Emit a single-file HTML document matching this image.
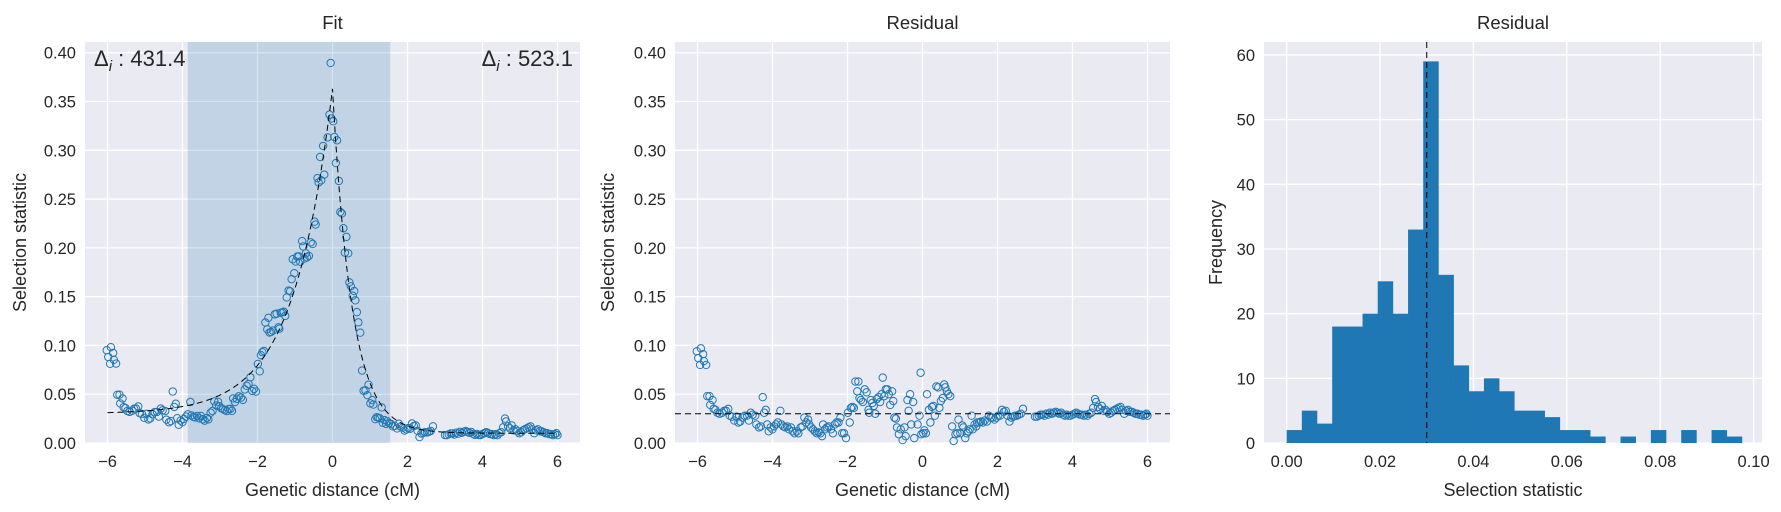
<!DOCTYPE html>
<html><head><meta charset="utf-8">
<style>
html,body{margin:0;padding:0;background:#fff;}
svg{display:block;font-family:"Liberation Sans","DejaVu Sans",sans-serif;}
</style></head>
<body>
<svg id="fig" width="1781" height="512" viewBox="0 0 1781 512" xmlns="http://www.w3.org/2000/svg"></svg>
<script>
// ---- data ----
const resX = [-6.02,-5.98,-5.93,-5.91,-5.85,-5.83,-5.77,-5.74,-5.68,-5.66,-5.60,-5.57,-5.52,-5.47,-5.41,-5.34,-5.29,-5.24,-5.18,-5.14,-5.08,-5.02,-4.96,-4.91,-4.86,-4.80,-4.74,-4.68,-4.63,-4.58,-4.53,-4.46,-4.43,-4.36,-4.31,-4.26,-4.22,-4.18,-4.14,-4.10,-4.05,-4.00,-3.96,-3.91,-3.86,-3.79,-3.76,-3.71,-3.66,-3.61,-3.56,-3.51,-3.46,-3.41,-3.35,-3.31,-3.25,-3.20,-3.15,-3.10,-3.05,-3.02,-2.97,-2.92,-2.87,-2.82,-2.77,-2.72,-2.68,-2.65,-2.60,-2.55,-2.50,-2.44,-2.39,-2.34,-2.29,-2.24,-2.19,-2.14,-2.09,-2.04,-1.99,-1.94,-1.91,-1.87,-1.83,-1.79,-1.71,-1.74,-1.68,-1.64,-1.59,-1.54,-1.49,-1.44,-1.42,-1.38,-1.34,-1.30,-1.26,-1.22,-1.17,-1.13,-1.09,-1.06,-1.02,-0.98,-0.94,-0.90,-0.86,-0.81,-0.78,-0.75,-0.71,-0.68,-0.63,-0.58,-0.53,-0.48,-0.45,-0.40,-0.37,-0.33,-0.30,-0.25,-0.22,-0.05,-0.13,-0.08,-0.03,0.02,0.05,0.09,0.12,0.17,0.21,0.25,0.29,0.33,0.37,0.42,0.45,0.49,0.54,0.58,0.61,0.65,0.69,0.74,0.79,0.83,0.88,0.93,0.96,1.01,1.06,1.09,1.14,1.18,1.22,1.26,1.31,1.34,1.39,1.43,1.46,1.51,1.56,1.61,1.66,1.72,1.77,1.82,1.87,1.92,1.97,2.02,2.07,2.12,2.17,2.22,2.27,2.32,2.37,2.42,2.47,2.52,2.57,2.62,2.68,3.00,3.05,3.10,3.15,3.20,3.25,3.30,3.35,3.40,3.45,3.50,3.55,3.60,3.65,3.70,3.75,3.80,3.85,3.90,3.95,4.00,4.05,4.10,4.15,4.20,4.25,4.30,4.35,4.40,4.45,4.50,4.55,4.60,4.63,4.68,4.73,4.78,4.83,4.88,4.93,4.98,5.03,5.08,5.13,5.18,5.23,5.28,5.33,5.38,5.43,5.48,5.53,5.58,5.63,5.68,5.73,5.78,5.83,5.88,5.93,5.97,6.00];
const resY = [.094,.087,.080,.097,.091,.084,.080,.048,.048,.039,.044,.035,.034,.031,.030,.031,.033,.033,.035,.028,.027,.023,.027,.021,.022,.026,.028,.028,.023,.031,.029,.028,.019,.016,.017,.047,.031,.034,.019,.012,.016,.014,.017,.019,.021,.033,.019,.017,.016,.017,.014,.016,.012,.010,.012,.010,.016,.017,.026,.021,.024,.019,.016,.014,.012,.010,.011,.010,.007,.019,.014,.016,.017,.014,.010,.019,.021,.021,.026,.010,.010,.005,.031,.021,.036,.037,.036,.063,.063,.053,.046,.044,.042,.055,.052,.034,.031,.044,.041,.038,.030,.045,.047,.042,.050,.067,.048,.055,.055,.050,.039,.053,.043,.026,.025,.016,.009,.014,.003,.016,.007,.044,.033,.050,.019,.042,.005,.072,.019,.028,.009,.010,.013,.010,.050,.034,.021,.037,.038,.028,.058,.057,.036,.043,.046,.060,.057,.053,.050,.048,.017,.002,.009,.010,.024,.010,.018,.016,.005,.010,.012,.014,.028,.014,.019,.017,.021,.021,.022,.021,.023,.022,.028,.026,.026,.024,.026,.028,.028,.034,.032,.033,.028,.022,.026,.027,.028,.028,.029,.030,.035,.027,.027,.028,.029,.029,.028,.030,.029,.031,.030,.031,.032,.031,.030,.031,.029,.028,.029,.028,.028,.029,.030,.031,.030,.029,.029,.028,.029,.028,.030,.031,.036,.045,.042,.037,.035,.038,.033,.034,.032,.030,.031,.033,.034,.035,.036,.037,.034,.030,.033,.034,.032,.032,.031,.030,.030,.029,.029,.028,.029,.030,.028];
const fitLeft = [0.030, 0.333, 1.05];   // baseline, amplitude, scale (cM)
const fitRight = [0.010, 0.353, 0.52];
const residualLevel = [0.03];
const shadeRange = [-3.86, 1.54];
const deltaLabels = ["431.4", "523.1"];
const histCounts = [2,5,3,18,18,20,25,20,33,59,26,12,8,10,8,5,5,4,2,2,1,0,1,0,2,0,2,0,2,1];
const histRange = [0.0, 0.0975];
const yTicks12 = [0,0.05,0.10,0.15,0.20,0.25,0.30,0.35,0.40];
const xTicks12 = [-6,-4,-2,0,2,4,6];
const yTicks3 = [0,10,20,30,40,50,60];
const xTicks3 = [0,0.02,0.04,0.06,0.08,0.10];

const NS = "http://www.w3.org/2000/svg";
const svg = document.getElementById('fig');
function mk(tag, attrs, parent){ const e=document.createElementNS(NS,tag); for(const k in attrs) e.setAttribute(k,attrs[k]); (parent||svg).appendChild(e); return e; }
function txt(s, attrs, parent){ const e=mk('text',attrs,parent); e.textContent=s; return e; }
function fitF(x){ return x<0 ? fitLeft[0]+fitLeft[1]*Math.exp(x/fitLeft[2]) : fitRight[0]+fitRight[1]*Math.exp(-x/fitRight[2]); }

const TOP=42, BOT=443;
function panel(name, L, R, xmin, xmax, ymin, ymax, xt, yt, xfmt, yfmt, title, xlabel, ylabel, ylabX){
  const g = mk('g',{});
  
  
  const sx = v => L + (v-xmin)/(xmax-xmin)*(R-L);
  const sy = v => BOT - (v-ymin)/(ymax-ymin)*(BOT-TOP);
  const bg = mk('rect',{x:L,y:TOP,width:R-L,height:BOT-TOP,fill:'#eaeaf2'},g);
   
  xt.forEach(v=>{ const l=mk('line',{x1:sx(v),x2:sx(v),y1:TOP,y2:BOT,stroke:'#fff','stroke-width':1.3},g);
     
    const t=txt(xfmt(v),{x:sx(v),y:BOT+24,'text-anchor':'middle','font-size':16.5,fill:'#262626'},g);
      });
  yt.forEach(v=>{ const l=mk('line',{x1:L,x2:R,y1:sy(v),y2:sy(v),stroke:'#fff','stroke-width':1.3},g);
     
    const t=txt(yfmt(v),{x:L-9,y:sy(v)+6,'text-anchor':'end','font-size':16.5,fill:'#262626'},g);
      });
  const ti=txt(title,{x:(L+R)/2,y:29,'text-anchor':'middle','font-size':18.5,fill:'#262626'},g);
   
  const xl=txt(xlabel,{x:(L+R)/2,y:496,'text-anchor':'middle','font-size':18,fill:'#262626'},g);
   
  const yl=txt(ylabel,{x:0,y:0,'text-anchor':'middle','font-size':18,fill:'#262626',transform:`translate(${ylabX},${(TOP+BOT)/2}) rotate(-90)`},g);
   
  return {g,sx,sy};
}
const f2 = v=>v.toFixed(2);
const fi = v=>(v<0?'\u2212':'')+Math.abs(v);

// Panel 1: Fit
const p1 = panel('fit-panel',85,580,-6.6,6.6,0,0.411,xTicks12,yTicks12,fi,f2,'Fit','Genetic distance (cM)','Selection statistic',26);
const sh=mk('rect',{x:p1.sx(shadeRange[0]),y:TOP,width:p1.sx(shadeRange[1])-p1.sx(shadeRange[0]),height:BOT-TOP,fill:'rgba(31,119,180,0.2)'},p1.g);
 
resX.forEach((x,i)=>{ const y=resY[i]-residualLevel[0]+fitF(x);
  const c=mk('circle',{cx:p1.sx(x),cy:p1.sy(y),r:3.7,fill:'none',stroke:'#1f77b4','stroke-width':1},p1.g);
    });
let d='';
for(let k=0;k<=600;k++){ const x=-6+12*k/600; d+=(k?'L':'M')+p1.sx(x).toFixed(2)+','+p1.sy(fitF(x)).toFixed(2); }
const fl=mk('path',{d,fill:'none',stroke:'#000','stroke-width':1,'stroke-dasharray':'6,4'},p1.g);
 
const a1=txt('',{x:94,y:66,'font-size':22,fill:'#262626'},p1.g);
a1.innerHTML='Δ<tspan font-style="italic" font-size="15" dy="5">i</tspan><tspan dy="-5"> : '+deltaLabels[0]+'</tspan>';
 
const a2=txt('',{x:573,y:66,'font-size':22,fill:'#262626','text-anchor':'end'},p1.g);
a2.innerHTML='Δ<tspan font-style="italic" font-size="15" dy="5">i</tspan><tspan dy="-5"> : '+deltaLabels[1]+'</tspan>';
 

// Panel 2: Residual scatter
const p2 = panel('residual-scatter-panel',675,1170,-6.6,6.6,0,0.411,xTicks12,yTicks12,fi,f2,'Residual','Genetic distance (cM)','Selection statistic',614);
resX.forEach((x,i)=>{
  const c=mk('circle',{cx:p2.sx(x),cy:p2.sy(resY[i]),r:3.7,fill:'none',stroke:'#1f77b4','stroke-width':1},p2.g);
    });
const rl=mk('line',{x1:675,x2:1170,y1:p2.sy(residualLevel[0]),y2:p2.sy(residualLevel[0]),stroke:'#000','stroke-width':1,'stroke-dasharray':'6,4'},p2.g);
 

// Panel 3: Histogram
const p3 = panel('residual-histogram-panel',1264,1762,-0.00485,0.1018,0,62,xTicks3,yTicks3,f2,v=>String(v),'Residual','Selection statistic','Frequency',1222);
const bw=(histRange[1]-histRange[0])/histCounts.length;
histCounts.forEach((c,i)=>{ if(!c) return;
  const x0=p3.sx(histRange[0]+i*bw), x1=p3.sx(histRange[0]+(i+1)*bw);
  const r=mk('rect',{x:x0,y:p3.sy(c),width:x1-x0+0.3,height:p3.sy(0)-p3.sy(c),fill:'#1f77b4'},p3.g);
    });
const vl=mk('line',{x1:p3.sx(residualLevel[0]),x2:p3.sx(residualLevel[0]),y1:TOP,y2:BOT,stroke:'#000','stroke-width':1,'stroke-dasharray':'6,4'},p3.g);
 
</script>
</body></html>
